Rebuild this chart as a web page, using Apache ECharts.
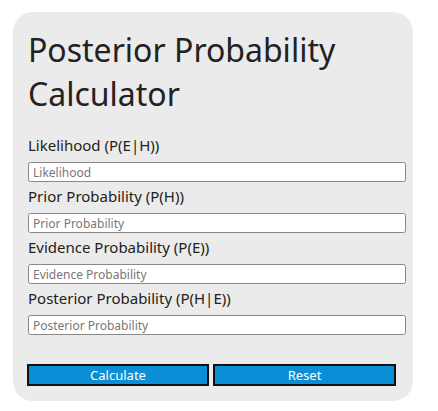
<!DOCTYPE html>
<html>
<head>
<meta charset="utf-8">
<script src="https://cdn.jsdelivr.net/npm/echarts@6/dist/echarts.min.js"></script>
<style>html,body{margin:0;padding:0;background:#fff}#main{width:438px;height:411px}</style>
</head>
<body>
<div id="main"></div>
<script>
var titleLines = ['Posterior Probability', 'Calculator'];
var fieldLabels = ['Likelihood (P(E|H))', 'Prior Probability (P(H))', 'Evidence Probability (P(E))', 'Posterior Probability (P(H|E))'];
var placeholders = ['Likelihood', 'Prior Probability', 'Evidence Probability', 'Posterior Probability'];
var buttons = ['Calculate', 'Reset'];

var font = '"Noto Sans", "Open Sans", sans-serif';
var chart = echarts.init(document.getElementById('main'), null, { renderer: 'svg' });
var els = [];

els.push({ type: 'rect', shape: { x: 13, y: 12, width: 400, height: 389, r: 20 }, style: { fill: '#ebebeb' } });

titleLines.forEach(function (t, i) {
    els.push({ type: 'text', x: 28, y: 49 + i * 44, style: { text: t, font: '32px ' + font, fill: '#222', verticalAlign: 'middle' } });
});

fieldLabels.forEach(function (t, i) {
    var y = 145 + i * 51;
    els.push({ type: 'text', x: 28, y: y, style: { text: t, font: '15px ' + font, fill: '#222', verticalAlign: 'middle' } });
    els.push({ type: 'rect', shape: { x: 28.5, y: y + 17.5, width: 377, height: 19, r: 2 }, style: { fill: '#fff', stroke: '#888', lineWidth: 1 } });
    els.push({ type: 'text', x: 33, y: y + 27, style: { text: placeholders[i], font: '12px ' + font, fill: '#777', verticalAlign: 'middle' } });
});

buttons.forEach(function (t, i) {
    var x = i === 0 ? 28 : 214;
    var w = i === 0 ? 180 : 181;
    els.push({ type: 'rect', shape: { x: x, y: 365, width: w, height: 20 }, style: { fill: '#0a8fd6', stroke: '#111', lineWidth: 2 } });
    els.push({ type: 'text', x: x + w / 2, y: 375, style: { text: t, font: '13px ' + font, fill: '#fff', align: 'center', verticalAlign: 'middle' } });
});

chart.setOption({ graphic: { elements: els } });
</script>
</body>
</html>
